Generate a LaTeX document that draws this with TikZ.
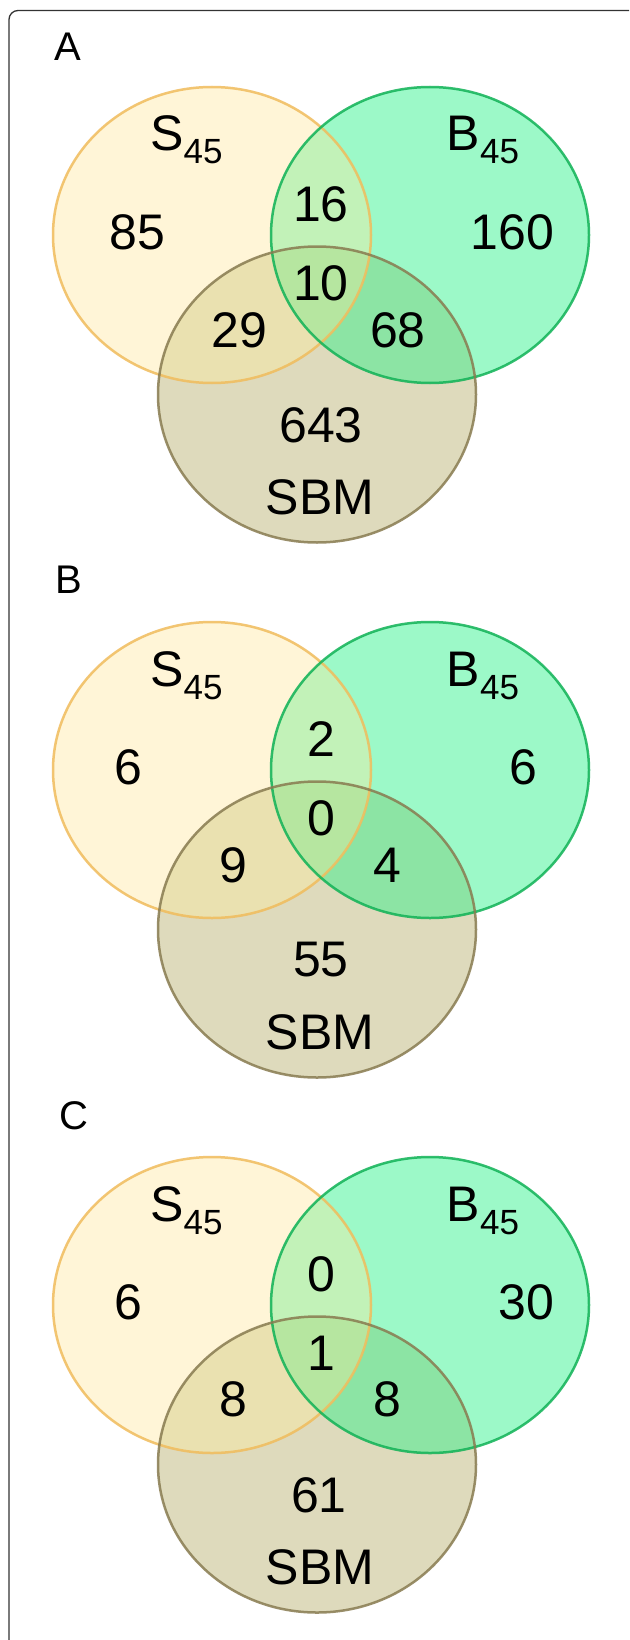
\documentclass[tikz,border=0pt]{standalone}
\usepackage{fontspec}
\setmainfont{Liberation Sans}
\definecolor{sfill}{HTML}{FFF5D7}
\definecolor{bfill}{HTML}{9CF9C8}
\definecolor{mfill}{HTML}{DEDABC}
\definecolor{sbfill}{HTML}{C2F2B8}
\definecolor{smfill}{HTML}{EAE1B0}
\definecolor{bmfill}{HTML}{8CE4A4}
\definecolor{allfill}{HTML}{B6E6A0}
\definecolor{sline}{HTML}{F0BC5C}
\definecolor{bline}{HTML}{10B256}
\definecolor{mline}{HTML}{887B50}
\definecolor{frameline}{HTML}{333333}
\newcommand\subn[1]{\raisebox{-13pt}{\fontsize{35}{35}\selectfont #1}}
\newcommand\vennshapes[1]{%
  \fill[sfill] (212,#1) ellipse[x radius=159, y radius=148];
  \fill[bfill] (430,#1) ellipse[x radius=159, y radius=148];
  \fill[mfill] (317,{#1+159.5}) ellipse[x radius=159, y radius=148];
  \begin{scope}
    \clip (430,#1) ellipse[x radius=159, y radius=148];
    \fill[bmfill] (317,{#1+159.5}) ellipse[x radius=159, y radius=148];
  \end{scope}
  \begin{scope}
    \clip (212,#1) ellipse[x radius=159, y radius=148];
    \fill[sbfill] (430,#1) ellipse[x radius=159, y radius=148];
    \fill[smfill] (317,{#1+159.5}) ellipse[x radius=159, y radius=148];
    \clip (430,#1) ellipse[x radius=159, y radius=148];
    \fill[allfill] (317,{#1+159.5}) ellipse[x radius=159, y radius=148];
  \end{scope}
  \draw[sline, ring] (212,#1) ellipse[x radius=159, y radius=148];
  \draw[bline, ring] (430,#1) ellipse[x radius=159, y radius=148];
  \draw[mline, ring] (317,{#1+159.5}) ellipse[x radius=159, y radius=148];
}
\begin{document}
\begin{tikzpicture}[x=1pt, y=-1pt,
  ring/.style={line width=2.5pt, opacity=0.85},
  num/.style={inner sep=0pt, font=\fontsize{50}{50}\selectfont},
  setlab/.style={inner sep=0pt, anchor=base, font=\fontsize{50}{50}\selectfont},
  panellab/.style={inner sep=0pt, font=\fontsize{40}{40}\selectfont}]
\useasboundingbox (0,0) rectangle (629,1640);
\fill[white] (0,0) rectangle (629,1640);
\begin{scope}
  \clip (0,0) rectangle (629,1640);
  \draw[frameline, line width=1.3pt, rounded corners=9pt] (9,10.5) rectangle (640,1650);
\end{scope}

% Panel A
\vennshapes{235}
\node[panellab] (labA) at (68,46.7) {A};
\node[setlab] (sA) at (186.5,151) {S\subn{45}};
\node[setlab] (bA) at (483,151) {B\subn{45}};
\node[num] (a85) at (137.6,232) {85};
\node[num] (a16) at (321,204) {16};
\node[num] (a160) at (512.6,232) {160};
\node[num] (a10) at (321,283.5) {10};
\node[num] (a29) at (239.5,330) {29};
\node[num] (a68) at (398,330) {68};
\node[num] (a643) at (321,425) {643};
\node[num] (aSBM) at (320,497) {SBM};

% Panel B
\vennshapes{770}
\node[panellab] (labB) at (68.6,580) {B};
\node[setlab] (sB) at (186.5,686) {S\subn{45}};
\node[setlab] (bB) at (483,686) {B\subn{45}};
\node[num] (b6l) at (128.4,767) {6};
\node[num] (b2) at (321,739) {2};
\node[num] (b6r) at (523.5,767) {6};
\node[num] (b0) at (321,818.5) {0};
\node[num] (b9) at (233.5,865) {9};
\node[num] (b4) at (387,865) {4};
\node[num] (b55) at (321,960) {55};
\node[num] (bSBM) at (320,1032) {SBM};

% Panel C
\vennshapes{1305}
\node[panellab] (labC) at (74.4,1115.5) {C};
\node[setlab] (sC) at (186.5,1221) {S\subn{45}};
\node[setlab] (bC) at (483,1221) {B\subn{45}};
\node[num] (c6) at (128.4,1302) {6};
\node[num] (c0) at (321,1274) {0};
\node[num] (c30) at (526.7,1302) {30};
\node[num] (c1) at (321,1353.5) {1};
\node[num] (c8l) at (233.5,1399.5) {8};
\node[num] (c8r) at (387,1399.5) {8};
\node[num] (c61) at (319,1495) {61};
\node[num] (cSBM) at (320,1567) {SBM};
\end{tikzpicture}
\end{document}
